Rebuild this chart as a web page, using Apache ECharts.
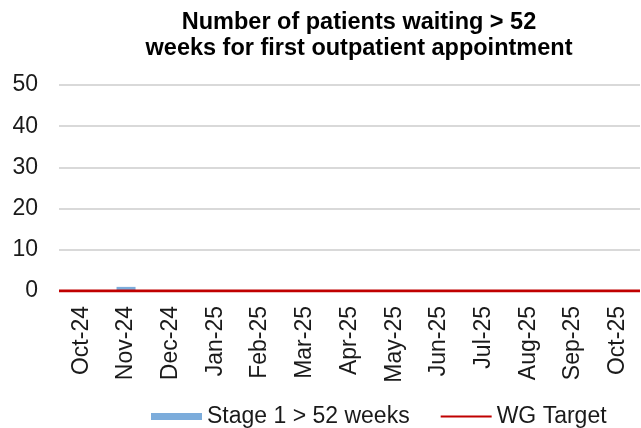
<!DOCTYPE html>
<html>
<head>
<meta charset="utf-8">
<script src="https://cdn.jsdelivr.net/npm/echarts@6/dist/echarts.min.js"></script>
<style>
    html, body { margin: 0; padding: 0; background: #fff; }
    #chart { width: 641px; height: 428px; }
</style>
</head>
<body>
<div id="chart"></div>
<script>
// 月份
const months = ['Oct-24', 'Nov-24', 'Dec-24', 'Jan-25', 'Feb-25', 'Mar-25', 'Apr-25',
    'May-25', 'Jun-25', 'Jul-25', 'Aug-25', 'Sep-25', 'Oct-25']
// Stage 1 > 52 weeks
const stage1Values = [0, 1, 0, 0, 0, 0, 0, 0, 0, 0, 0, 0, 0]
// WG Target
const targetValues = [0, 0, 0, 0, 0, 0, 0, 0, 0, 0, 0, 0, 0]
const yTicks = [0, 10, 20, 30, 40, 50]

const font = 'Liberation Sans, Arial, sans-serif'
const chart = echarts.init(document.getElementById('chart'))

const option = {
    animation: false,
    textStyle: { fontFamily: font },
    title: {
        text: 'Number of patients waiting > 52\nweeks for first outpatient appointment',
        left: 354,
        textAlign: 'center',
        top: 5,
        textStyle: {
            fontFamily: font,
            fontSize: 23.5,
            fontWeight: 'bold',
            color: '#000',
            lineHeight: 26,
        },
    },
    grid: {
        left: 59,
        right: 1,
        top: 85,
        bottom: 137,
    },
    legend: {
        left: 146,
        top: 400,
        itemWidth: 51,
        itemHeight: 7,
        itemGap: 30,
        textStyle: { fontFamily: font, fontSize: 23, color: '#1a1a1a' },
        data: [
            { name: 'Stage 1 > 52 weeks', icon: 'rect' },
            // 图例只画线, 不画圆点
            { name: 'WG Target', itemStyle: { opacity: 0 } },
        ],
    },
    xAxis: [
        {
            type: 'category',
            data: months,
            axisLine: { show: false },
            axisTick: { show: false },
            axisLabel: {
                rotate: 90,
                margin: 15,
                fontSize: 23,
                color: '#1a1a1a',
                fontFamily: font,
                interval: 0,
            },
        },
        {
            // 目标线用的轴, 不留边距, 横跨整个绘图区
            type: 'category',
            data: months,
            boundaryGap: false,
            show: false,
        },
    ],
    yAxis: {
        type: 'value',
        min: yTicks[0],
        max: yTicks[yTicks.length - 1],
        interval: 10,
        axisLine: { show: false },
        axisTick: { show: false },
        axisLabel: {
            margin: 21,
            fontSize: 23,
            color: '#1a1a1a',
            fontFamily: font,
        },
        splitLine: { lineStyle: { color: '#d9d9d9', width: 2 } },
    },
    series: [
        {
            name: 'Stage 1 > 52 weeks',
            type: 'bar',
            data: stage1Values,
            barWidth: 19,
            itemStyle: { color: '#7cacdb' },
        },
        {
            name: 'WG Target',
            type: 'line',
            xAxisIndex: 1,
            data: targetValues,
            symbol: 'none',
            lineStyle: { color: '#c00000', width: 3 },
            itemStyle: { color: '#c00000' },
            z: 5,
        },
    ],
}
chart.setOption(option)
</script>
</body>
</html>
